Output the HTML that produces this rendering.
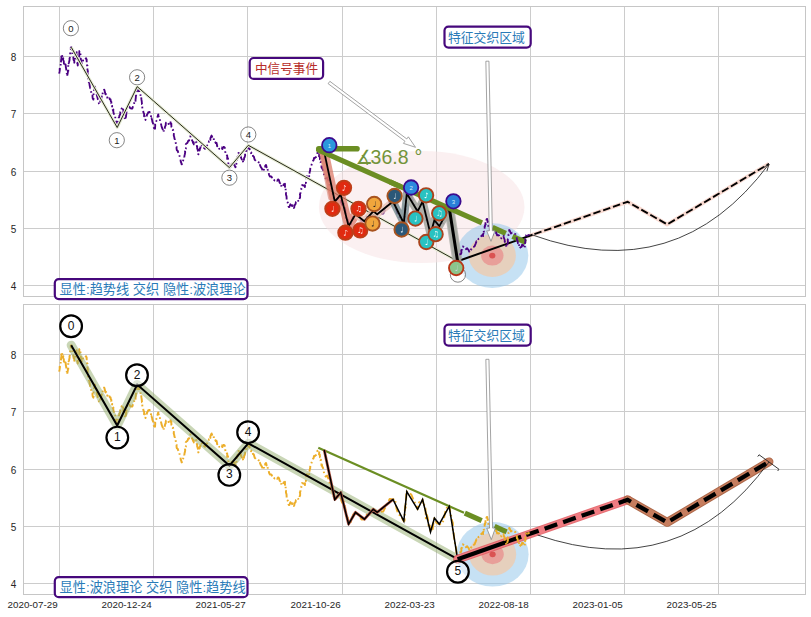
<!DOCTYPE html>
<html><head><meta charset="utf-8"><title>chart</title>
<style>
html,body{margin:0;padding:0;background:#fff;}
body{width:811px;height:617px;overflow:hidden;font-family:"Liberation Sans",sans-serif;}
svg{display:block;}
</style></head><body>
<svg width="811" height="617" viewBox="0 0 811 617">
<title>Wave / trend-line price chart (two panels)</title>
<rect width="811" height="617" fill="#fff"/>
<path d="M23.5 285.5H805.5M23.5 228.5H805.5M23.5 171.5H805.5M23.5 113.5H805.5M23.5 56.5H805.5M59.5 6.5V296.5M153.5 6.5V296.5M247.5 6.5V296.5M342.5 6.5V296.5M436.5 6.5V296.5M530.5 6.5V296.5M624.5 6.5V296.5M718.5 6.5V296.5" stroke="#cccccc" stroke-width="1" fill="none" shape-rendering="crispEdges"/>
<rect x="23.5" y="6.5" width="782" height="290" fill="none" stroke="#c6c6c6" stroke-width="1" shape-rendering="crispEdges"/>
<g font-family="Liberation Sans, sans-serif" font-size="10" fill="#262626" text-anchor="end">
<text x="16.3" y="289.6">4</text>
<text x="16.3" y="232.6">5</text>
<text x="16.3" y="175.6">6</text>
<text x="16.3" y="117.6">7</text>
<text x="16.3" y="60.6">8</text>
</g>
<path d="M23.5 583.5H805.5M23.5 526.5H805.5M23.5 469.5H805.5M23.5 411.5H805.5M23.5 354.5H805.5M59.5 304.5V594.5M153.5 304.5V594.5M247.5 304.5V594.5M342.5 304.5V594.5M436.5 304.5V594.5M530.5 304.5V594.5M624.5 304.5V594.5M718.5 304.5V594.5" stroke="#cccccc" stroke-width="1" fill="none" shape-rendering="crispEdges"/>
<rect x="23.5" y="304.5" width="782" height="290" fill="none" stroke="#c6c6c6" stroke-width="1" shape-rendering="crispEdges"/>
<g font-family="Liberation Sans, sans-serif" font-size="10" fill="#262626" text-anchor="end">
<text x="16.3" y="587.6">4</text>
<text x="16.3" y="530.6">5</text>
<text x="16.3" y="473.6">6</text>
<text x="16.3" y="415.6">7</text>
<text x="16.3" y="358.6">8</text>
</g>
<g font-family="Liberation Sans, sans-serif" font-size="9.8" fill="#262626" text-anchor="end">
<text x="57.7" y="608.3">2020-07-29</text>
<text x="151.7" y="608.3">2020-12-24</text>
<text x="245.7" y="608.3">2021-05-27</text>
<text x="340.7" y="608.3">2021-10-26</text>
<text x="434.7" y="608.3">2022-03-23</text>
<text x="528.7" y="608.3">2022-08-18</text>
<text x="622.7" y="608.3">2023-01-05</text>
<text x="716.7" y="608.3">2023-05-25</text>
</g>
<g id="top">
<ellipse cx="421.7" cy="207" rx="102.8" ry="56" fill="#f7e1e4" fill-opacity="0.5"/>
<ellipse cx="492.3" cy="255.6" rx="36" ry="32.3" fill="#8ec3ea" fill-opacity="0.5"/>
<ellipse cx="492.3" cy="255.6" rx="23.6" ry="21.3" fill="#f0c9ab" fill-opacity="0.75"/>
<ellipse cx="492.3" cy="255.6" rx="11.2" ry="10" fill="#e88a8a" fill-opacity="0.7"/>
<ellipse cx="492.3" cy="255.6" rx="3.1" ry="2.9" fill="#d84a4a" fill-opacity="0.9"/>
<circle cx="70.9" cy="28.2" r="7.6" fill="#fff" fill-opacity="0.6" stroke="#5c5c5c" stroke-width="0.75"/>
<text x="70.9" y="31.65" text-anchor="middle" font-family="Liberation Sans, sans-serif" font-size="9.5" fill="#1a1a1a">0</text>
<circle cx="116.8" cy="140.2" r="7.6" fill="#fff" fill-opacity="0.6" stroke="#5c5c5c" stroke-width="0.75"/>
<text x="116.8" y="143.65" text-anchor="middle" font-family="Liberation Sans, sans-serif" font-size="9.5" fill="#1a1a1a">1</text>
<circle cx="137.1" cy="77.3" r="7.6" fill="#fff" fill-opacity="0.6" stroke="#5c5c5c" stroke-width="0.75"/>
<text x="137.1" y="80.75" text-anchor="middle" font-family="Liberation Sans, sans-serif" font-size="9.5" fill="#1a1a1a">2</text>
<circle cx="229.4" cy="177.7" r="7.6" fill="#fff" fill-opacity="0.6" stroke="#5c5c5c" stroke-width="0.75"/>
<text x="229.4" y="181.15" text-anchor="middle" font-family="Liberation Sans, sans-serif" font-size="9.5" fill="#1a1a1a">3</text>
<circle cx="248.3" cy="134.5" r="7.6" fill="#fff" fill-opacity="0.6" stroke="#5c5c5c" stroke-width="0.75"/>
<text x="248.3" y="137.95" text-anchor="middle" font-family="Liberation Sans, sans-serif" font-size="9.5" fill="#1a1a1a">4</text>
<circle cx="457.9" cy="274.6" r="7.6" fill="#fff" fill-opacity="0.6" stroke="#5c5c5c" stroke-width="0.75"/>
<polyline points="59.4,73.6 59.36,72.47 59.6,71.38 59.93,68.79 59.65,69.48 59.97,66.73 60.63,66.08 60.68,64.85 60.72,62.8 60.88,63.36 60.97,61.8 61.25,58.87 61.48,58.95 61.33,56.31 61.89,56.18 61.96,55.95 61.9,54.3 62.33,56.57 62.38,57.49 62.7,59.05 63.28,58.17 63.02,59.69 63.82,61.47 63.81,62.36 63.95,63.8 64.07,65.53 64.3,66 64.72,65.81 65.15,64.68 65.2,63 65.6,65.47 65.63,64.64 65.92,67.88 66.1,68.13 66.12,68.48 66.36,70.63 66.2,70.58 66.86,74.12 66.6,74.86 67.09,74.46 67.3,76 67.3,75.43 67.86,72.38 67.83,71.14 68.05,70.61 68.31,71 68.2,69.8 68.21,66.25 68.56,64.9 68.45,64.6 68.91,62.73 68.68,63.28 69.04,62.26 69.62,59.57 69.48,58.69 69.78,57.64 69.9,56.47 70.34,54.94 70.16,54.24 70.19,51.95 70.89,51.27 70.76,48.75 70.84,48.94 70.74,47.79 71.1,47.3 71.47,47.42 71.74,49.66 72.04,50.59 72.34,52.77 72.13,52.3 72.84,55.78 72.79,55.74 73.27,56.63 73.35,57.83 73.59,59.77 73.78,60.45 74.35,60.8 74.3,62.7 74.56,62.06 74.6,59.54 75.16,58.35 74.95,57.61 75.57,55.56 75.65,54.94 76.35,54 76.71,52.12 76.5,52.8 76.5,54.42 77,55.17 76.66,55.59 76.99,57.01 77.3,59.87 76.98,59.71 77.53,61.87 77.65,62.37 77.29,63.48 77.87,64.67 77.7,65.6 77.75,64.15 77.96,62.89 78.47,61.02 77.99,61.75 78.76,60.62 78.61,59.29 79.11,56.23 79.18,56.53 79.32,54.5 79.25,52.82 79.4,50.9 79.7,51.3 79.96,52 80.32,52.63 80.59,55.48 80.81,57.23 80.99,57.66 80.57,59.31 80.88,59.44 81.41,61.23 81.44,63.5 81.77,63.24 81.7,63.7 82.07,63.48 82.78,62.16 83.24,59.57 84.25,60.29 85.03,59.51 86.1,58.2 86.57,60.2 86.68,59.44 86.71,62.82 86.48,62.58 86.81,64.46 87.09,65.56 87.46,65.62 87.05,67.18 87.2,68.28 87.89,71.49 87.37,71.86 87.63,72.64 87.75,74.71 88.01,75.25 87.84,76.41 87.89,78.22 88.4,79.03 88.15,79.76 88.66,82.04 89.24,82.69 89.56,84.51 89.61,85.09 89.97,87.13 90.26,88.31 90.62,88.39 91.01,90.72 91.02,91.25 91.59,93.59 92.27,93.54 92.57,95.79 92.45,96.18 92.68,98.26 93.38,99.65 93.3,98.8 93.67,97.98 93.79,96.48 93.51,95.3 93.61,92.95 94.31,91.46 94.01,90.36 94.74,89.33 94.33,89.75 94.58,88.52 95,86.6 95.41,88.66 95.89,89.23 96.06,89.09 96.33,91.5 96.58,91.7 96.9,94.99 96.72,94.67 97.38,97.14 97.45,96.74 97.76,99.04 98.43,99.69 98.47,100.91 98.77,102.18 98.9,103.59 99.4,104.4 100.09,102.98 100.28,101.15 100.6,101.44 100.94,99.65 101.17,98.77 101.81,96.33 101.61,96.63 102.55,94.86 102.57,94.17 102.86,91.89 103.46,91.58 104.13,89.59 104.4,90 104.95,92.31 105.08,92.87 105.58,94.42 106.13,94.13 106.31,94.69 106.94,96.76 107.2,97.7 107.83,96.44 108.8,96 109.32,97.75 109.85,99.37 110.58,99.51 110.83,101.32 111.34,101.85 111.36,103.48 111.89,103.91 112.08,106.52 112.17,105.92 112.29,108.35 112.89,110.17 113.36,109.58 113.24,110.82 113.59,113.14 114.4,114.83 114.32,115.95 114.7,116.05 115.32,116.41 115.22,119.48 115.65,119.5 116.13,121.52 116.01,121.88 116.59,123.48 116.71,124.95 117.51,125.68 117.2,126 117.43,123.81 117.43,123.94 117.51,123.26 118.26,120.05 118.48,119.51 118.61,119.25 118.66,117.85 119.28,116.99 119.38,115.66 120.24,114.27 120.32,111.67 120.66,111.08 121.26,110.73 121.64,108.33 122.18,108.31 122.2,107.7 122.28,109.89 122.92,109.18 123.43,110.44 123.31,113.1 123.81,113.9 124.18,114.86 124.28,115.36 124.45,117.91 125.27,118.68 125.6,119.42 125.5,120 125.49,118.47 126.06,116.37 125.96,115.65 126.29,114.67 126.14,113.55 126.44,113.23 126.46,112.18 126.72,109.58 127.24,108.05 128.28,108.48 128.75,106.25 129.4,106.6 130.15,108.16 131,108.5 132.35,108.59 133,106.24 133.35,105.21 133.92,104.99 134.18,103.04 135.07,101.34 135.33,102.28 135.6,99.77 135.49,99.03 135.71,98.77 135.92,95.84 136.2,95.06 136.19,94.43 135.99,93.31 136.67,91.38 136.78,90.07 136.77,89.01 136.87,87.71 137.2,87.7 137.85,88.69 138.34,91.1 139.11,90.16 139.6,92.5 139.64,92.96 140.32,93.38 140.71,96.74 140.74,97.83 141.18,97.23 141.47,99.63 141.7,101.16 141.75,101.46 141.99,104.17 142.23,104.16 142.36,105.52 142.1,105.65 142.28,107.27 142.57,109.24 143.24,110.56 143.34,112.05 143.55,112.81 144.16,113.86 144.06,116.32 144.75,116.2 144.82,117.82 145.3,118.26 145.5,120 145.6,118.1 146.59,116.77 146.8,115.73 147.07,114.5 147.83,113.42 148.26,112.24 149.05,112.15 149.4,112 149.61,111.94 150.41,114.04 150.91,114.35 151,116.43 151.04,119.07 151.48,118.1 151.96,119.49 152.37,121.16 152.32,121.63 153.05,123.4 153.4,125.09 153.8,125.89 153.63,127.02 154.32,129.14 154.4,130 154.55,127.76 155.04,128.73 155.24,125.09 155.1,124.08 155.46,122.73 155.64,123.05 156.49,120.69 156.86,120.18 157.11,120.08 157.57,116.68 157.48,116.91 158.3,114.42 158.3,114.4 158.47,116.48 158.66,116.54 159.13,118.48 159.86,118.43 160.04,121.03 160.43,121.79 160.8,122.52 160.76,123.4 161.38,125.22 161.39,125.64 162.07,127.93 162.43,128.58 162.64,129.19 163.16,130.06 163.3,132.2 163.61,131.64 164.09,128.78 164.11,129.44 164.72,128.32 165.21,126.05 165.69,125.59 165.78,123.54 166.09,122.46 166.6,122.2 167.83,122.07 168.46,122.94 168.5,124 169.14,123.54 170.18,121.2 170.5,122.2 170.63,123.76 171.3,123.37 171.42,126.95 171.79,127.13 172.29,128.87 172.79,130.09 173.1,129.78 173.21,130.71 174.02,131.99 173.72,135.34 174.05,136.39 174.17,136.56 174.48,138.7 174.96,139.46 175.27,141.27 175.2,141.83 175.49,141.83 175.98,144.27 176.19,144.53 176.21,146.4 176.57,146.67 176.56,148.91 176.86,150.22 177.83,151.04 178.26,152.65 178.42,153.17 179.43,154.29 179.45,154.84 179.59,156.26 180.39,158.88 180.65,160.74 180.76,161.82 181.01,161.75 181.6,164.17 181.91,164.34 181.6,164.4 182.27,163.01 182.9,163.14 182.89,162.02 183.49,158.87 184.54,158.31 184.54,157.94 184.33,156.96 184.62,154.94 184.8,154.47 185.21,152.09 184.88,150.87 185.24,149.08 185.21,149.55 185.75,148.84 186.09,147.35 185.82,144.32 186.12,143.91 186.94,143.05 187.53,142.79 188.2,140.8 189.18,140.54 189.33,138.01 190.24,136.31 190.5,136.6 190.69,137.84 191.43,138.1 191.54,139.36 192.51,141.17 193.19,143.1 193.72,142.36 193.8,144.4 194.46,142.3 195.6,142.34 196.6,142.2 196.46,143.55 196.66,144.21 196.94,146.67 197.23,146.55 197.14,148.22 197.72,150.07 198.09,151.64 197.8,151.19 198.33,154.07 198.3,154.4 198.6,154.01 198.92,151.42 198.95,149.55 199.57,150.53 200.09,148.25 200.28,148.21 200.75,146.2 200.83,144.79 201,144.4 201.53,144.6 202.65,147.61 203.38,147.08 204.17,148.04 205,148.8 205.79,147.58 206.49,145.73 206.62,145.54 207.37,145.32 208.43,144.54 208.98,141.26 209.4,141.39 209.78,139.54 210.38,139.96 210.42,138.19 211.07,136.64 211.6,135.5 212.47,137.75 212.88,136.94 213.66,138.01 213.87,140.73 214.57,140.34 215.78,143.01 216.09,142.63 216.64,143.08 217.17,146.33 217.6,145.58 218.23,146.32 219.32,148.87 220.45,149.45 220.5,149.4 221.73,147.42 222.38,149.1 223.39,146.9 224.4,147.2 224.74,147.82 225.13,148.47 225.27,151.94 225.55,153.01 225.9,154.44 226.57,154.78 226.52,154.51 227.28,156.02 227.18,158.85 227.93,158.13 228.27,160.57 228.15,160.72 228.4,164.14 228.56,163.23 228.7,164.45 229.09,167.64 229.4,167.7 229.6,165.78 230.7,166.65 231.22,163.62 231.46,164.34 232.27,162.7 232.7,161.6 233.11,161.53 233.68,164.47 234.54,165.14 234.89,166.18 235.45,167.28 235.5,167.2 235.99,165.23 236.07,165.83 236.51,162.73 236.84,163.15 236.54,160.49 236.81,158.74 237.61,158.41 237.8,156.45 237.47,157.11 238.28,156.2 238.47,153.81 238.79,151.51 238.8,151.6 239.29,152.62 239.47,154.18 240.05,155.11 240.54,155.8 240.99,157.67 241.91,159.66 242.31,160.56 242.39,162.07 242.86,161.09 243.3,162.7 243.54,162.05 243.66,160.61 243.86,160.19 244.21,157.74 244.53,157.51 245.16,155.43 245.09,154.44 245.14,152.75 246.1,152.45 245.99,151.48 246.66,150.62 247.21,147.6 247.97,148.19 248.3,146.6 248.81,148.64 249.57,148.49 249.84,149.97 250.39,150.79 251.06,153.19 251.49,152.52 251.83,154.19 252.74,154.68 253,156.21 253.82,156.53 254.69,159.8 255.38,160.38 256.44,161.55 257.38,161.44 258.11,161.51 259.16,163.02 259.58,165.29 259.89,164.71 260.71,166.9 260.64,166.64 261.35,167.73 262.22,169.3 262.36,170.94 262.7,171.6 263.24,170.3 263.86,169.74 264.26,167.2 265.21,167.58 265.18,165.85 266,165 266.58,167.41 266.5,166.14 267.19,168.36 267.89,170.55 267.92,170.7 268.54,173.04 268.72,172.97 269.08,174.77 269.83,176.46 271.01,176.49 271.5,176.6 272.51,179.17 273.3,178.74 274.49,180.47 275.4,179.54 276,180.4 277.01,180.9 278.04,179.48 278.3,179.4 278.97,180.14 279.65,182.64 280.3,183.31 280.39,182.74 281.09,184.5 281.46,187.02 282.2,187.2 282.67,186.95 283.85,184.14 284.76,184 285,183.8 284.94,184.26 284.95,186.28 285.33,188.41 285.79,187.66 285.62,189.73 285.6,190.63 285.78,192.98 285.95,192.77 285.98,194.84 286.34,195.6 286.56,196.76 286.65,198.99 286.54,200.57 287.06,201.24 287.56,202.65 287.81,202.42 288.38,205.64 288.5,206.14 288.8,207 289.35,206.97 290.37,204.27 291.42,205.36 291.6,203.8 292.05,206.16 292.71,205.23 293.47,206.73 293.8,208 294.38,207.03 294.35,205.71 295.28,204.41 295.51,204.2 295.91,202.11 296.47,201.78 296.6,200.5 297.51,200.04 298.8,201.6 299.22,200.5 299.14,200.13 299.79,198.02 300.1,197.53 300.16,194.94 299.87,194.68 300.61,192.63 300.71,191.96 300.84,191.07 301.36,189.07 301.3,188.27 301.69,187.47 301.83,185.42 302.2,185 303,185.5 304.29,185.47 305,187 304.89,185.72 305.19,184.54 305.36,182.3 305.82,183.12 306.25,180.87 306.11,178.51 306.23,177.9 306.89,176.17 306.6,177 307.65,177.95 308.15,178.31 308.8,179.4 309.3,177.38 309.2,176.95 309.11,174.99 309.84,175.18 309.83,174.22 309.56,172.48 310.19,170.05 310.15,170.68 310.23,168.91 310.32,167.45 310.8,165.87 311.28,165.59 312,163.51 312.48,162.18 313.11,160.64 313.53,160.36 314.02,157.92 314.5,158.33 315.21,157.57 316.09,157.01 317.05,155.42 317.47,152.71 318.51,153.62 318.8,152.7 319.32,153.19 319.01,156.36 319.64,156.35 319.85,156.74 319.93,159.27 320.22,159.23 320.16,161.61 320.95,161.62 320.6,162.7 321.44,164.68 321.52,167.4 321.94,166.79 322.1,168.3 323.09,170 324.3,176.33 325.8,178.59 327.19,177.51 328.4,180.64 329.39,184.26 331.25,190.85 332.04,191.4 333.89,199.35 334.8,201.5 337.67,198.76 340.7,194.6 341.22,202.48 342.29,204.9 343.03,201.83 344.46,206.84 345.15,209.16 345.86,216.88 346.49,219.54 347.49,218.55 348.6,226.1 350.84,223.83 353.27,216.52 355.5,214.3 358.31,216.17 361.59,221.61 364.4,221.2 367.43,215.55 370.63,214.83 373.3,211.3 377.2,214.3 380.19,213.85 383.21,213.6 386.89,205.87 389.83,200.86 393,201.5 394.93,200.88 396.66,211.17 398.25,215.8 400.28,217.76 401.96,220.32 403.8,223.2 404.53,222.63 404.68,215.56 405.09,208.06 405.69,209.75 405.5,207.66 406.18,199.95 406.39,192.91 406.8,193.6 408.65,194.09 411.33,196.62 413.08,200.81 415.74,206.76 417.6,211.3 419.23,204.17 421.24,205.22 422.6,201.5 423.77,208.05 424.29,206.68 425.54,211.03 425.83,220.16 426.77,216.58 427.85,220.71 428.55,227.6 429.56,225.83 430.5,234 431.53,229.35 432.6,231.27 433.52,223.79 434.4,220.2 436.49,224.77 439.3,226.1 441.5,226.24 443.5,222.47 445.16,214.49 447.33,208.29 449.2,208.4 449.41,207.89 450.05,212.76 450.52,217.49 451.16,217.88 451.89,222.33 452.86,225.15 452.84,234.09 453.56,234.28 453.94,238.83 455.19,246.81 455.35,246.81 455.6,246.83 456.29,252.71 456.77,260.71 457.6,261.2" fill="none" stroke="#4b0082" stroke-width="1.85" stroke-dasharray="7 2.8 1.6 2.8" stroke-linejoin="round"/>
<polyline points="71.2,47.2 117.2,127.5 137.2,86.6 229.4,167.6 248.3,145.3 457.6,261.2" fill="none" stroke="#e6ecd4" stroke-width="3" stroke-linejoin="round"/>
<polyline points="71.2,47.2 117.2,127.5 137.2,86.6 229.4,167.6 248.3,145.3 457.6,261.2" fill="none" stroke="#1c1c10" stroke-width="0.95" stroke-linejoin="round"/>
<polyline points="528,236.41 627.6,201.8 667.2,224.4 769,163.8" fill="none" stroke="#f8d9d0" stroke-width="4" stroke-linejoin="round"/>
<path d="M457.6 261.2 L532.6 234.78" stroke="#000" stroke-width="2.0" fill="none"/>
<polyline points="534.4,234.15 627.6,201.8 667.2,224.4 769,163.8" fill="none" stroke="#000" stroke-width="1.85" stroke-dasharray="7.5 2.9"/>
<path d="M532.8 235.1 Q677.21 286.94 769 164" fill="none" stroke="#222" stroke-width="0.85"/>
<path d="M766.9 171.16 L769 164 L762.73 168.05" fill="none" stroke="#222" stroke-width="0.9"/>
<path d="M321.8 154 L330.6 198" stroke="#d77f70" stroke-opacity="0.6" stroke-width="5" stroke-linecap="round" fill="none"/>
<polyline points="324.2,151.9 334.8,201.5 340.7,194.6 348.6,226.1 355.5,214.3" fill="none" stroke="#dc7a68" stroke-opacity="0.74" stroke-width="9" stroke-linejoin="round" stroke-linecap="round"/>
<polyline points="355.5,214.3 364.4,221.2 373.3,211.3 377.2,214.3 393,201.5" fill="none" stroke="#e9c3b5" stroke-opacity="0.8" stroke-width="7" stroke-linejoin="round" stroke-linecap="round"/>
<polyline points="393,201.5 403.8,223.2 406.8,193.6" fill="none" stroke="#74898f" stroke-opacity="0.8" stroke-width="7.5" stroke-linejoin="round" stroke-linecap="round"/>
<polyline points="406.8,193.6 417.6,211.3 422.6,201.5 430.5,234 434.4,220.2 439.3,226.1 449.2,208.4 457.6,261.2" fill="none" stroke="#a6a8a1" stroke-opacity="0.9" stroke-width="8" stroke-linejoin="round" stroke-linecap="round"/>
<polyline points="324.2,151.9 334.8,201.5 340.7,194.6 348.6,226.1 355.5,214.3 364.4,221.2 373.3,211.3 377.2,214.3 393,201.5 403.8,223.2 406.8,193.6 417.6,211.3 422.6,201.5 430.5,234 434.4,220.2 439.3,226.1 449.2,208.4 457.6,261.2" fill="none" stroke="#000" stroke-width="1.8" stroke-linejoin="miter"/>
<path d="M449.5 210 L457.2 259.5" stroke="#a6a8a1" stroke-opacity="0.75" stroke-width="10" fill="none"/>
<path d="M449.4 209 L457.5 260.8" stroke="#000" stroke-width="3.0" fill="none"/>
<path d="M318.8 148.8H357" stroke="#6b8e23" stroke-width="5.6" stroke-linecap="round" fill="none"/>
<path d="M318.6 150.05 L400 186.3" stroke="#6b8e23" stroke-width="5.1" stroke-linecap="round" fill="none"/>
<path d="M390 181.84 L482 222.81" stroke="#6b8e23" stroke-width="5.1" fill="none"/>
<path d="M492.5 227.49 L505.8 233.41" stroke="#6b8e23" stroke-width="5.3" fill="none"/>
<path d="M512.5 236.39 L525.8 242.32" stroke="#6b8e23" stroke-width="5.3" fill="none"/>
<polyline points="459.4,254.5 460.25,254.21 461.12,253.8 461.43,252.59 461.27,250.26 462.25,249.58 462.7,247.09 462.89,246.34 463.1,246.6 464.14,247.44 464.89,246.87 466.04,249.21 467.07,248.23 467.8,249.14 468.54,249.93 469.2,251.6 469.42,251.51 470.13,248.75 471.33,249.46 471.59,248.74 472.61,247.17 473.29,247.07 474.54,246.35 475.57,243.82 476.01,242.6 476.48,241.31 477.21,241.68 477.64,240.86 478.51,238.89 479.75,238.55 480.31,237.76 481.43,235.82 482.43,234.84 483.09,236.1 482.97,234.84 483.47,233.13 483.49,230.58 483.85,231.76 484.08,230.07 484.81,229.37 484.62,226.66 485,226.58 484.96,225.34 485.69,224.45 485.4,223.5 485.72,220.76 486.37,221.1 486.48,219.95 486.91,217.2 487,217.2 487.07,217.55 487.1,218.65 487.72,222.04 487.55,220.76 488.31,223.21 488.09,223.62 488.4,226.34 488.49,226.48 488.52,228.91 488.92,228.94 489.9,229.12 490.23,232.38 490.5,233.11 490.48,233.34 490.85,235.56 491.3,235.69 491.5,236 492.47,235.89 493.07,233.82 493.39,233.58 494.57,232.26 495.3,232.7 496.19,232.51 497.13,235.41 498.56,235.1 498.97,235.26 499.26,236.14 500.47,238.64 500.8,238.3 501.58,238.23 502.79,237.22 503.69,236.69 503.6,236 503.81,237.69 504.06,238.28 504.72,239.97 504.69,241.8 505.25,242.01 505.17,243.06 505.71,244.53 506.23,246.05 506.73,247.14 506.9,247.2 506.94,246.38 507.35,245.67 507.22,244.52 507.73,242.92 507.95,242.43 507.77,240.13 507.66,239.73 508.36,237.61 508.36,237.05 508.57,234.44 508.78,234.32 508.88,232.72 509.03,232.45 509.21,231.12 509.2,230 509.52,230.13 510.45,232.41 511.02,233.45 512.11,232.67 512.96,233.72 513.87,233.55 515.2,234.02 515.79,234.46 516.34,236.51 516.8,238.2 516.89,240.16 517.1,240.01 517.66,241.16 517.92,243.4 518.47,242.47 518.93,243.78 519.17,245.59 519.48,248.36 519.7,248.3 520.72,247.19 521.51,246.88 522.1,244.78 523,245 523.71,246.18 524.6,248.25 524.7,247.7 524.9,246.12 525.22,244.02 524.8,244.29 525.28,241.99 525.41,242.75 525.36,240.36 525.4,238.81 526.1,237.85 526.27,238.05 526.19,235.16 526.63,234.59 526.4,233.9 527.02,234.42 527.5,235.5 528.93,234.98 528.6,235" fill="none" stroke="#4b0082" stroke-width="1.85" stroke-dasharray="7 2.8 1.6 2.8" stroke-linejoin="round"/>
<circle cx="344" cy="187.8" r="7.2" fill="#e12a10" stroke="#bf3e19" stroke-width="1.9"/>
<path d="M344 185.04H344.33L344.36 185.06V185.21Q344.46 185.42 345.12 185.66Q346.03 185.93 346.03 186.45Q346.03 187.01 345.57 187.37H345.55L345.44 187.25Q345.67 187.06 345.67 186.74Q345.67 186.48 344.8 186.21Q344.45 186.05 344.36 185.95V190.01Q344.36 190.59 343.5 190.76H343.29Q342.37 190.76 342.37 190.12Q342.37 189.62 343.17 189.54H343.26Q343.63 189.54 343.97 189.78V185.06Z" fill="#fff"/>
<circle cx="332.4" cy="208.8" r="7.2" fill="#e12a10" stroke="#bf3e19" stroke-width="1.9"/>
<path d="M333.3 206.04H333.57L333.6 206.07V210.95Q333.6 211.58 332.85 211.75L332.67 211.76H332.53Q331.73 211.76 331.62 211.26L331.6 211.14Q331.6 210.64 332.41 210.55L332.53 210.53Q332.91 210.53 333.25 210.78H333.27V206.07Z" fill="#fff"/>
<circle cx="358.5" cy="208.8" r="7.2" fill="#e12a10" stroke="#bf3e19" stroke-width="1.9"/>
<path d="M358.12 205.66 360.75 206.43 360.76 206.44V211.39Q360.76 211.98 360.03 212.14H359.83Q359.01 212.14 359.01 211.52V211.5Q359.01 211.02 359.69 210.94L359.84 210.93Q360.16 210.93 360.47 211.15V207.21L358.39 206.56V210.6Q358.39 211.12 357.81 211.34L357.56 211.37H357.46Q356.64 211.37 356.64 210.78V210.75Q356.64 210.29 357.29 210.16L357.45 210.14Q357.79 210.14 358.09 210.4V205.69Z" fill="#fff"/>
<circle cx="345.4" cy="232.7" r="7.2" fill="#e12a10" stroke="#bf3e19" stroke-width="1.9"/>
<path d="M345.4 229.94H345.73L345.76 229.96V230.11Q345.86 230.32 346.52 230.56Q347.43 230.83 347.43 231.35Q347.43 231.91 346.97 232.27H346.95L346.84 232.15Q347.07 231.96 347.07 231.64Q347.07 231.38 346.2 231.11Q345.85 230.95 345.76 230.85V234.91Q345.76 235.49 344.9 235.66H344.69Q343.77 235.66 343.77 235.02Q343.77 234.52 344.57 234.44H344.66Q345.03 234.44 345.37 234.68V229.96Z" fill="#fff"/>
<circle cx="360.2" cy="230.4" r="7.2" fill="#e12a10" stroke="#bf3e19" stroke-width="1.9"/>
<path d="M359.82 227.26 362.45 228.03 362.46 228.04V232.99Q362.46 233.58 361.73 233.74H361.53Q360.71 233.74 360.71 233.12V233.1Q360.71 232.62 361.39 232.54L361.54 232.53Q361.86 232.53 362.17 232.75V228.81L360.09 228.16V232.2Q360.09 232.72 359.51 232.94L359.26 232.97H359.16Q358.34 232.97 358.34 232.38V232.35Q358.34 231.89 358.99 231.76L359.15 231.74Q359.49 231.74 359.79 232V227.29Z" fill="#fff"/>
<circle cx="374.2" cy="204" r="7.2" fill="#f0a63c" stroke="#a8531f" stroke-width="1.9"/>
<path d="M375.1 201.24H375.37L375.4 201.27V206.15Q375.4 206.78 374.65 206.95L374.47 206.96H374.33Q373.53 206.96 373.42 206.46L373.4 206.34Q373.4 205.84 374.21 205.75L374.33 205.73Q374.71 205.73 375.05 205.98H375.07V201.27Z" fill="#222"/>
<circle cx="372.5" cy="223.6" r="7.2" fill="#f0a63c" stroke="#a8531f" stroke-width="1.9"/>
<path d="M373.4 220.84H373.67L373.7 220.87V225.75Q373.7 226.38 372.95 226.55L372.77 226.56H372.63Q371.83 226.56 371.72 226.06L371.7 225.94Q371.7 225.44 372.51 225.35L372.63 225.33Q373.01 225.33 373.35 225.58H373.37V220.87Z" fill="#222"/>
<circle cx="394.6" cy="195.9" r="7.2" fill="#2c5878" stroke="#a8531f" stroke-width="1.9"/>
<path d="M395.5 193.14H395.77L395.8 193.17V198.05Q395.8 198.68 395.05 198.85L394.87 198.86H394.73Q393.93 198.86 393.82 198.36L393.8 198.24Q393.8 197.74 394.61 197.65L394.73 197.63Q395.11 197.63 395.45 197.88H395.47V193.17Z" fill="#fff"/>
<circle cx="401.6" cy="229.5" r="7.2" fill="#2c5878" stroke="#a8531f" stroke-width="1.9"/>
<path d="M402.5 226.74H402.77L402.8 226.77V231.65Q402.8 232.28 402.05 232.45L401.87 232.46H401.73Q400.93 232.46 400.82 231.96L400.8 231.84Q400.8 231.34 401.61 231.25L401.73 231.23Q402.11 231.23 402.45 231.48H402.47V226.77Z" fill="#fff"/>
<circle cx="415.4" cy="218.6" r="7.2" fill="#29c2c2" stroke="#aa431d" stroke-width="1.9"/>
<path d="M416.3 215.84H416.57L416.6 215.87V220.75Q416.6 221.38 415.85 221.55L415.67 221.56H415.53Q414.73 221.56 414.62 221.06L414.6 220.94Q414.6 220.44 415.41 220.35L415.53 220.33Q415.91 220.33 416.25 220.58H416.27V215.87Z" fill="#fff"/>
<circle cx="426.1" cy="195.3" r="7.2" fill="#29c2c2" stroke="#aa431d" stroke-width="1.9"/>
<path d="M426.1 192.54H426.43L426.46 192.56V192.71Q426.56 192.92 427.22 193.16Q428.13 193.43 428.13 193.95Q428.13 194.51 427.67 194.87H427.65L427.54 194.75Q427.77 194.56 427.77 194.24Q427.77 193.98 426.9 193.71Q426.55 193.55 426.46 193.45V197.51Q426.46 198.09 425.6 198.26H425.39Q424.47 198.26 424.47 197.62Q424.47 197.12 425.27 197.04H425.36Q425.73 197.04 426.07 197.28V192.56Z" fill="#fff"/>
<circle cx="426.3" cy="242" r="7.2" fill="#29c2c2" stroke="#aa431d" stroke-width="1.9"/>
<path d="M427.2 239.24H427.47L427.5 239.27V244.15Q427.5 244.78 426.75 244.95L426.57 244.96H426.43Q425.63 244.96 425.52 244.46L425.5 244.34Q425.5 243.84 426.31 243.75L426.43 243.73Q426.81 243.73 427.15 243.98H427.17V239.27Z" fill="#fff"/>
<circle cx="435.6" cy="234.2" r="7.2" fill="#29c2c2" stroke="#aa431d" stroke-width="1.9"/>
<path d="M435.22 231.06 437.85 231.83 437.86 231.84V236.79Q437.86 237.38 437.13 237.54H436.93Q436.11 237.54 436.11 236.92V236.9Q436.11 236.42 436.79 236.34L436.94 236.33Q437.26 236.33 437.57 236.55V232.61L435.49 231.96V236Q435.49 236.52 434.91 236.74L434.66 236.77H434.56Q433.74 236.77 433.74 236.18V236.15Q433.74 235.69 434.39 235.56L434.55 235.54Q434.89 235.54 435.19 235.8V231.09Z" fill="#fff"/>
<circle cx="439.2" cy="213.3" r="7.2" fill="#29c2c2" stroke="#aa431d" stroke-width="1.9"/>
<path d="M438.82 210.16 441.45 210.93 441.46 210.94V215.89Q441.46 216.48 440.73 216.64H440.53Q439.71 216.64 439.71 216.02V216Q439.71 215.52 440.39 215.44L440.54 215.43Q440.86 215.43 441.17 215.65V211.71L439.09 211.06V215.1Q439.09 215.62 438.51 215.84L438.26 215.87H438.16Q437.34 215.87 437.34 215.28V215.25Q437.34 214.79 437.99 214.66L438.15 214.64Q438.49 214.64 438.79 214.9V210.19Z" fill="#fff"/>
<circle cx="456.2" cy="268" r="7.2" fill="#8cc58c" stroke="#b93719" stroke-width="1.9"/>
<path d="M457.1 265.24H457.37L457.4 265.27V270.15Q457.4 270.78 456.65 270.95L456.47 270.96H456.33Q455.53 270.96 455.42 270.46L455.4 270.34Q455.4 269.84 456.21 269.75L456.33 269.73Q456.71 269.73 457.05 269.98H457.07V265.27Z" fill="#ccd0da"/>
<circle cx="329.3" cy="145.2" r="7.25" fill="#2a98dc" stroke="#3b0a8e" stroke-width="1.8"/>
<text x="329.4" y="147.5" text-anchor="middle" font-family="Liberation Sans, sans-serif" font-size="6" fill="#d4eefc">1</text>
<circle cx="411.1" cy="187.5" r="7.25" fill="#2b8ade" stroke="#3b0a8e" stroke-width="1.8"/>
<text x="411.1" y="189.8" text-anchor="middle" font-family="Liberation Sans, sans-serif" font-size="6" fill="#d4eefc">2</text>
<circle cx="453.4" cy="201.3" r="7.25" fill="#287fd8" stroke="#3b0a8e" stroke-width="1.8"/>
<text x="453.4" y="203.6" text-anchor="middle" font-family="Liberation Sans, sans-serif" font-size="6" fill="#d4eefc">3</text>
<text x="355.6" y="164.4" font-family="Liberation Sans, DejaVu Sans, sans-serif" font-size="19.5" fill="#73943a">∡</text>
<text x="370.6" y="164.4" font-family="Liberation Sans, DejaVu Sans, sans-serif" font-size="19.5" fill="#73943a">36.8</text>
<text x="414.6" y="164.4" font-family="Liberation Sans, DejaVu Sans, sans-serif" font-size="19.5" fill="#73943a">°</text>
</g>
<polygon points="328.13,83.66 405.03,141.27 403.44,143.39 415.5,147.3 408.35,136.82 406.77,138.94 329.87,81.34" fill="#fff" stroke="#7d7d7d" stroke-width="0.7" stroke-linejoin="miter"/>
<polygon points="485.85,61.23 489.24,230.83 486.69,230.88 491,241.3 494.89,230.72 492.34,230.77 488.95,61.17" fill="#fff" stroke="#7d7d7d" stroke-width="0.7" stroke-linejoin="miter"/>
<rect x="249.7" y="58" width="73.4" height="20.9" rx="4" ry="4" fill="#fff" stroke="#46087c" stroke-width="2.2"/>
<text x="255" y="73.3" font-family="Liberation Sans, Noto Sans CJK SC, sans-serif" font-size="12.6" fill="#b62c28">中信号事件</text>
<rect x="444.5" y="26.6" width="86.2" height="21" rx="4" ry="4" fill="#fff" stroke="#46087c" stroke-width="2.2"/>
<text x="448" y="41.8" font-family="Liberation Sans, Noto Sans CJK SC, sans-serif" font-size="12.8" fill="#2a7bb8">特征交织区域</text>
<rect x="54.8" y="279.1" width="192.7" height="20" rx="4" ry="4" fill="#fff" stroke="#46087c" stroke-width="2.2"/>
<text x="59.6" y="294.3" font-family="Liberation Sans, Noto Sans CJK SC, sans-serif" font-size="13.2" fill="#2a7bb8">显性:趋势线 交织 隐性:波浪理论</text>
<g id="bot">
<ellipse cx="492.6" cy="554.3" rx="36" ry="32.3" fill="#8ec3ea" fill-opacity="0.5"/>
<ellipse cx="492.6" cy="554.3" rx="23.6" ry="21.3" fill="#f0c9ab" fill-opacity="0.75"/>
<ellipse cx="492.6" cy="554.3" rx="11.2" ry="10" fill="#e88a8a" fill-opacity="0.7"/>
<ellipse cx="492.6" cy="554.3" rx="3.1" ry="2.9" fill="#d84a4a" fill-opacity="0.9"/>
<polyline points="59.4,371.6 59.36,370.47 59.6,369.38 59.93,366.79 59.65,367.48 59.97,364.73 60.63,364.08 60.68,362.85 60.72,360.8 60.88,361.36 60.97,359.8 61.25,356.87 61.48,356.95 61.33,354.31 61.89,354.18 61.96,353.95 61.9,352.3 62.33,354.57 62.38,355.49 62.7,357.05 63.28,356.17 63.02,357.69 63.82,359.47 63.81,360.36 63.95,361.8 64.07,363.53 64.3,364 64.72,363.81 65.15,362.68 65.2,361 65.6,363.47 65.63,362.64 65.92,365.88 66.1,366.13 66.12,366.48 66.36,368.63 66.2,368.58 66.86,372.12 66.6,372.86 67.09,372.46 67.3,374 67.3,373.43 67.86,370.38 67.83,369.14 68.05,368.61 68.31,369 68.2,367.8 68.21,364.25 68.56,362.9 68.45,362.6 68.91,360.73 68.68,361.28 69.04,360.26 69.62,357.57 69.48,356.69 69.78,355.64 69.9,354.47 70.34,352.94 70.16,352.24 70.19,349.95 70.89,349.27 70.76,346.75 70.84,346.94 70.74,345.79 71.1,345.3 71.47,345.42 71.74,347.66 72.04,348.59 72.34,350.77 72.13,350.3 72.84,353.78 72.79,353.74 73.27,354.63 73.35,355.83 73.59,357.77 73.78,358.45 74.35,358.8 74.3,360.7 74.56,360.06 74.6,357.54 75.16,356.35 74.95,355.61 75.57,353.56 75.65,352.94 76.35,352 76.71,350.12 76.5,350.8 76.5,352.42 77,353.17 76.66,353.59 76.99,355.01 77.3,357.87 76.98,357.71 77.53,359.87 77.65,360.37 77.29,361.48 77.87,362.67 77.7,363.6 77.75,362.15 77.96,360.89 78.47,359.02 77.99,359.75 78.76,358.62 78.61,357.29 79.11,354.23 79.18,354.53 79.32,352.5 79.25,350.82 79.4,348.9 79.7,349.3 79.96,350 80.32,350.63 80.59,353.48 80.81,355.23 80.99,355.66 80.57,357.31 80.88,357.44 81.41,359.23 81.44,361.5 81.77,361.24 81.7,361.7 82.07,361.48 82.78,360.16 83.24,357.57 84.25,358.29 85.03,357.51 86.1,356.2 86.57,358.2 86.68,357.44 86.71,360.82 86.48,360.58 86.81,362.46 87.09,363.56 87.46,363.62 87.05,365.18 87.2,366.28 87.89,369.49 87.37,369.86 87.63,370.64 87.75,372.71 88.01,373.25 87.84,374.41 87.89,376.22 88.4,377.03 88.15,377.76 88.66,380.04 89.24,380.69 89.56,382.51 89.61,383.09 89.97,385.13 90.26,386.31 90.62,386.39 91.01,388.72 91.02,389.25 91.59,391.59 92.27,391.54 92.57,393.79 92.45,394.18 92.68,396.26 93.38,397.65 93.3,396.8 93.67,395.98 93.79,394.48 93.51,393.3 93.61,390.95 94.31,389.46 94.01,388.36 94.74,387.33 94.33,387.75 94.58,386.52 95,384.6 95.41,386.66 95.89,387.23 96.06,387.09 96.33,389.5 96.58,389.7 96.9,392.99 96.72,392.67 97.38,395.14 97.45,394.74 97.76,397.04 98.43,397.69 98.47,398.91 98.77,400.18 98.9,401.59 99.4,402.4 100.09,400.98 100.28,399.15 100.6,399.44 100.94,397.65 101.17,396.77 101.81,394.33 101.61,394.63 102.55,392.86 102.57,392.17 102.86,389.89 103.46,389.58 104.13,387.59 104.4,388 104.95,390.31 105.08,390.87 105.58,392.42 106.13,392.13 106.31,392.69 106.94,394.76 107.2,395.7 107.83,394.44 108.8,394 109.32,395.75 109.85,397.37 110.58,397.51 110.83,399.32 111.34,399.85 111.36,401.48 111.89,401.91 112.08,404.52 112.17,403.92 112.29,406.35 112.89,408.17 113.36,407.58 113.24,408.82 113.59,411.14 114.4,412.83 114.32,413.95 114.7,414.05 115.32,414.41 115.22,417.48 115.65,417.5 116.13,419.52 116.01,419.88 116.59,421.48 116.71,422.95 117.51,423.68 117.2,424 117.43,421.81 117.43,421.94 117.51,421.26 118.26,418.05 118.48,417.51 118.61,417.25 118.66,415.85 119.28,414.99 119.38,413.66 120.24,412.27 120.32,409.67 120.66,409.08 121.26,408.73 121.64,406.33 122.18,406.31 122.2,405.7 122.28,407.89 122.92,407.18 123.43,408.44 123.31,411.1 123.81,411.9 124.18,412.86 124.28,413.36 124.45,415.91 125.27,416.68 125.6,417.42 125.5,418 125.49,416.47 126.06,414.37 125.96,413.65 126.29,412.67 126.14,411.55 126.44,411.23 126.46,410.18 126.72,407.58 127.24,406.05 128.28,406.48 128.75,404.25 129.4,404.6 130.15,406.16 131,406.5 132.35,406.59 133,404.24 133.35,403.21 133.92,402.99 134.18,401.04 135.07,399.34 135.33,400.28 135.6,397.77 135.49,397.03 135.71,396.77 135.92,393.84 136.2,393.06 136.19,392.43 135.99,391.31 136.67,389.38 136.78,388.07 136.77,387.01 136.87,385.71 137.2,385.7 137.85,386.69 138.34,389.1 139.11,388.16 139.6,390.5 139.64,390.96 140.32,391.38 140.71,394.74 140.74,395.83 141.18,395.23 141.47,397.63 141.7,399.16 141.75,399.46 141.99,402.17 142.23,402.16 142.36,403.52 142.1,403.65 142.28,405.27 142.57,407.24 143.24,408.56 143.34,410.05 143.55,410.81 144.16,411.86 144.06,414.32 144.75,414.2 144.82,415.82 145.3,416.26 145.5,418 145.6,416.1 146.59,414.77 146.8,413.73 147.07,412.5 147.83,411.42 148.26,410.24 149.05,410.15 149.4,410 149.61,409.94 150.41,412.04 150.91,412.35 151,414.43 151.04,417.07 151.48,416.1 151.96,417.49 152.37,419.16 152.32,419.63 153.05,421.4 153.4,423.09 153.8,423.89 153.63,425.02 154.32,427.14 154.4,428 154.55,425.76 155.04,426.73 155.24,423.09 155.1,422.08 155.46,420.73 155.64,421.05 156.49,418.69 156.86,418.18 157.11,418.08 157.57,414.68 157.48,414.91 158.3,412.42 158.3,412.4 158.47,414.48 158.66,414.54 159.13,416.48 159.86,416.43 160.04,419.03 160.43,419.79 160.8,420.52 160.76,421.4 161.38,423.22 161.39,423.64 162.07,425.93 162.43,426.58 162.64,427.19 163.16,428.06 163.3,430.2 163.61,429.64 164.09,426.78 164.11,427.44 164.72,426.32 165.21,424.05 165.69,423.59 165.78,421.54 166.09,420.46 166.6,420.2 167.83,420.07 168.46,420.94 168.5,422 169.14,421.54 170.18,419.2 170.5,420.2 170.63,421.76 171.3,421.37 171.42,424.95 171.79,425.13 172.29,426.87 172.79,428.09 173.1,427.78 173.21,428.71 174.02,429.99 173.72,433.34 174.05,434.39 174.17,434.56 174.48,436.7 174.96,437.46 175.27,439.27 175.2,439.83 175.49,439.83 175.98,442.27 176.19,442.53 176.21,444.4 176.57,444.67 176.56,446.91 176.86,448.22 177.83,449.04 178.26,450.65 178.42,451.17 179.43,452.29 179.45,452.84 179.59,454.26 180.39,456.88 180.65,458.74 180.76,459.82 181.01,459.75 181.6,462.17 181.91,462.34 181.6,462.4 182.27,461.01 182.9,461.14 182.89,460.02 183.49,456.87 184.54,456.31 184.54,455.94 184.33,454.96 184.62,452.94 184.8,452.47 185.21,450.09 184.88,448.87 185.24,447.08 185.21,447.55 185.75,446.84 186.09,445.35 185.82,442.32 186.12,441.91 186.94,441.05 187.53,440.79 188.2,438.8 189.18,438.54 189.33,436.01 190.24,434.31 190.5,434.6 190.69,435.84 191.43,436.1 191.54,437.36 192.51,439.17 193.19,441.1 193.72,440.36 193.8,442.4 194.46,440.3 195.6,440.34 196.6,440.2 196.46,441.55 196.66,442.21 196.94,444.67 197.23,444.55 197.14,446.22 197.72,448.07 198.09,449.64 197.8,449.19 198.33,452.07 198.3,452.4 198.6,452.01 198.92,449.42 198.95,447.55 199.57,448.53 200.09,446.25 200.28,446.21 200.75,444.2 200.83,442.79 201,442.4 201.53,442.6 202.65,445.61 203.38,445.08 204.17,446.04 205,446.8 205.79,445.58 206.49,443.73 206.62,443.54 207.37,443.32 208.43,442.54 208.98,439.26 209.4,439.39 209.78,437.54 210.38,437.96 210.42,436.19 211.07,434.64 211.6,433.5 212.47,435.75 212.88,434.94 213.66,436.01 213.87,438.73 214.57,438.34 215.78,441.01 216.09,440.63 216.64,441.08 217.17,444.33 217.6,443.58 218.23,444.32 219.32,446.87 220.45,447.45 220.5,447.4 221.73,445.42 222.38,447.1 223.39,444.9 224.4,445.2 224.74,445.82 225.13,446.47 225.27,449.94 225.55,451.01 225.9,452.44 226.57,452.78 226.52,452.51 227.28,454.02 227.18,456.85 227.93,456.13 228.27,458.57 228.15,458.72 228.4,462.14 228.56,461.23 228.7,462.45 229.09,465.64 229.4,465.7 229.6,463.78 230.7,464.65 231.22,461.62 231.46,462.34 232.27,460.7 232.7,459.6 233.11,459.53 233.68,462.47 234.54,463.14 234.89,464.18 235.45,465.28 235.5,465.2 235.99,463.23 236.07,463.83 236.51,460.73 236.84,461.15 236.54,458.49 236.81,456.74 237.61,456.41 237.8,454.45 237.47,455.11 238.28,454.2 238.47,451.81 238.79,449.51 238.8,449.6 239.29,450.62 239.47,452.18 240.05,453.11 240.54,453.8 240.99,455.67 241.91,457.66 242.31,458.56 242.39,460.07 242.86,459.09 243.3,460.7 243.54,460.05 243.66,458.61 243.86,458.19 244.21,455.74 244.53,455.51 245.16,453.43 245.09,452.44 245.14,450.75 246.1,450.45 245.99,449.48 246.66,448.62 247.21,445.6 247.97,446.19 248.3,444.6 248.81,446.64 249.57,446.49 249.84,447.97 250.39,448.79 251.06,451.19 251.49,450.52 251.83,452.19 252.74,452.68 253,454.21 253.82,454.53 254.69,457.8 255.38,458.38 256.44,459.55 257.38,459.44 258.11,459.51 259.16,461.02 259.58,463.29 259.89,462.71 260.71,464.9 260.64,464.64 261.35,465.73 262.22,467.3 262.36,468.94 262.7,469.6 263.24,468.3 263.86,467.74 264.26,465.2 265.21,465.58 265.18,463.85 266,463 266.58,465.41 266.5,464.14 267.19,466.36 267.89,468.55 267.92,468.7 268.54,471.04 268.72,470.97 269.08,472.77 269.83,474.46 271.01,474.49 271.5,474.6 272.51,477.17 273.3,476.74 274.49,478.47 275.4,477.54 276,478.4 277.01,478.9 278.04,477.48 278.3,477.4 278.97,478.14 279.65,480.64 280.3,481.31 280.39,480.74 281.09,482.5 281.46,485.02 282.2,485.2 282.67,484.95 283.85,482.14 284.76,482 285,481.8 284.94,482.26 284.95,484.28 285.33,486.41 285.79,485.66 285.62,487.73 285.6,488.63 285.78,490.98 285.95,490.77 285.98,492.84 286.34,493.6 286.56,494.76 286.65,496.99 286.54,498.57 287.06,499.24 287.56,500.65 287.81,500.42 288.38,503.64 288.5,504.14 288.8,505 289.35,504.97 290.37,502.27 291.42,503.36 291.6,501.8 292.05,504.16 292.71,503.23 293.47,504.73 293.8,506 294.38,505.03 294.35,503.71 295.28,502.41 295.51,502.2 295.91,500.11 296.47,499.78 296.6,498.5 297.51,498.04 298.8,499.6 299.22,498.5 299.14,498.13 299.79,496.02 300.1,495.53 300.16,492.94 299.87,492.68 300.61,490.63 300.71,489.96 300.84,489.07 301.36,487.07 301.3,486.27 301.69,485.47 301.83,483.42 302.2,483 303,483.5 304.29,483.47 305,485 304.89,483.72 305.19,482.54 305.36,480.3 305.82,481.12 306.25,478.87 306.11,476.51 306.23,475.9 306.89,474.17 306.6,475 307.65,475.95 308.15,476.31 308.8,477.4 309.3,475.38 309.2,474.95 309.11,472.99 309.84,473.18 309.83,472.22 309.56,470.48 310.19,468.05 310.15,468.68 310.23,466.91 310.32,465.45 310.8,463.87 311.28,463.59 312,461.51 312.48,460.18 313.11,458.64 313.53,458.36 314.02,455.92 314.5,456.33 315.21,455.57 316.09,455.01 317.05,453.42 317.47,450.71 318.51,451.62 318.8,450.7 319.32,451.19 319.01,454.36 319.64,454.35 319.85,454.74 319.93,457.27 320.22,457.23 320.16,459.61 320.95,459.62 320.6,460.7 321.44,462.68 321.52,465.4 321.94,464.79 322.1,466.3 323.09,468 324.3,474.33 325.8,476.59 327.19,475.51 328.4,478.64 329.39,482.26 331.25,488.85 332.04,489.4 333.89,497.35 334.8,499.5 337.67,496.76 340.7,492.6 341.22,500.48 342.29,502.9 343.03,499.83 344.46,504.84 345.15,507.16 345.86,514.88 346.49,517.54 347.49,516.55 348.6,524.1 350.84,521.83 353.27,514.52 355.5,512.3 358.31,514.17 361.59,519.61 364.4,519.2 367.43,513.55 370.63,512.83 373.3,509.3 377.2,512.3 380.19,511.85 383.21,511.6 386.89,503.87 389.83,498.86 393,499.5 394.93,498.88 396.66,509.17 398.25,513.8 400.28,515.76 401.96,518.32 403.8,521.2 404.53,520.63 404.68,513.56 405.09,506.06 405.69,507.75 405.5,505.66 406.18,497.95 406.39,490.91 406.8,491.6 408.65,492.09 411.33,494.62 413.08,498.81 415.74,504.76 417.6,509.3 419.23,502.17 421.24,503.22 422.6,499.5 423.77,506.05 424.29,504.68 425.54,509.03 425.83,518.16 426.77,514.58 427.85,518.71 428.55,525.6 429.56,523.83 430.5,532 431.53,527.35 432.6,529.27 433.52,521.79 434.4,518.2 436.49,522.77 439.3,524.1 441.5,524.24 443.5,520.47 445.16,512.49 447.33,506.29 449.2,506.4 449.41,505.89 450.05,510.76 450.52,515.49 451.16,515.88 451.89,520.33 452.86,523.15 452.84,532.09 453.56,532.28 453.94,536.83 455.19,544.81 455.35,544.81 455.6,544.83 456.29,550.71 456.77,558.71 457.6,559.2" fill="none" stroke="#ecae2a" stroke-width="1.95" stroke-dasharray="7 2.8 1.6 2.8" stroke-linejoin="round"/>
<polyline points="71.2,345.2 117.2,425.5 137.2,384.6 229.4,465.6 248.3,443.3 457.6,559.2" fill="none" stroke="#94ad6e" stroke-opacity="0.5" stroke-width="9" stroke-linejoin="round" stroke-linecap="round"/>
<polyline points="71.2,345.2 117.2,425.5 137.2,384.6 229.4,465.6 248.3,443.3 457.6,559.2" fill="none" stroke="#000" stroke-width="2.0" stroke-linejoin="miter"/>
<path d="M318.3 447.7 L464 512.83" stroke="#6b8e23" stroke-width="2.2" fill="none"/>
<path d="M464.8 513.19 L481.7 520.74" stroke="#6b8e23" stroke-width="5.2" fill="none"/>
<path d="M494.5 526.46 L506.6 531.87" stroke="#6b8e23" stroke-width="5.2" fill="none"/>
<polyline points="324.2,449.9 334.8,499.5 340.7,492.6 348.6,524.1 355.5,512.3 364.4,519.2 373.3,509.3 377.2,512.3 393,499.5" fill="none" stroke="#b85a48" stroke-width="2.8" stroke-linejoin="round"/>
<polyline points="324.2,449.9 334.8,499.5 340.7,492.6 348.6,524.1 355.5,512.3 364.4,519.2 373.3,509.3 377.2,512.3 393,499.5 403.8,521.2 406.8,491.6 417.6,509.3 422.6,499.5 430.5,532 434.4,518.2 439.3,524.1 449.2,506.4 457.6,559.2" fill="none" stroke="#000" stroke-width="1.5" stroke-linejoin="miter"/>
<polyline points="457.6,559.2 627.6,499.8" fill="none" stroke="#e0565c" stroke-opacity="0.85" stroke-width="8.8" stroke-linecap="round"/>
<polyline points="457.6,559.2 627.6,499.8" fill="none" stroke="#f07c82" stroke-width="7.0" stroke-linecap="round"/>
<polyline points="627.6,499.8 667.2,522.4 769,461.8" fill="none" stroke="#a85f3e" stroke-opacity="0.95" stroke-width="8.8" stroke-linecap="round" stroke-linejoin="round"/>
<polyline points="627.6,499.8 667.2,522.4 769,461.8" fill="none" stroke="#c67d5e" stroke-width="7.0" stroke-linecap="round" stroke-linejoin="round"/>
<path d="M457.6 559.2 L521.2 536.69" stroke="#000" stroke-width="4.2" fill="none"/>
<polyline points="521.5,536.69 627.6,499.8 667.2,522.4 769,461.8" fill="none" stroke="#000" stroke-width="4.2" stroke-dasharray="13.3 6.3" stroke-dashoffset="14.7"/>
<polyline points="459.4,552.5 460.25,552.21 461.12,551.8 461.43,550.59 461.27,548.26 462.25,547.58 462.7,545.09 462.89,544.34 463.1,544.6 464.14,545.44 464.89,544.87 466.04,547.21 467.07,546.23 467.8,547.14 468.54,547.93 469.2,549.6 469.42,549.51 470.13,546.75 471.33,547.46 471.59,546.74 472.61,545.17 473.29,545.07 474.54,544.35 475.57,541.82 476.01,540.6 476.48,539.31 477.21,539.68 477.64,538.86 478.51,536.89 479.75,536.55 480.31,535.76 481.43,533.82 482.43,532.84 483.09,534.1 482.97,532.84 483.47,531.13 483.49,528.58 483.85,529.76 484.08,528.07 484.81,527.37 484.62,524.66 485,524.58 484.96,523.34 485.69,522.45 485.4,521.5 485.72,518.76 486.37,519.1 486.48,517.95 486.91,515.2 487,515.2 487.07,515.55 487.1,516.65 487.72,520.04 487.55,518.76 488.31,521.21 488.09,521.62 488.4,524.34 488.49,524.48 488.52,526.91 488.92,526.94 489.9,527.12 490.23,530.38 490.5,531.11 490.48,531.34 490.85,533.56 491.3,533.69 491.5,534 492.47,533.89 493.07,531.82 493.39,531.58 494.57,530.26 495.3,530.7 496.19,530.51 497.13,533.41 498.56,533.1 498.97,533.26 499.26,534.14 500.47,536.64 500.8,536.3 501.58,536.23 502.79,535.22 503.69,534.69 503.6,534 503.81,535.69 504.06,536.28 504.72,537.97 504.69,539.8 505.25,540.01 505.17,541.06 505.71,542.53 506.23,544.05 506.73,545.14 506.9,545.2 506.94,544.38 507.35,543.67 507.22,542.52 507.73,540.92 507.95,540.43 507.77,538.13 507.66,537.73 508.36,535.61 508.36,535.05 508.57,532.44 508.78,532.32 508.88,530.72 509.03,530.45 509.21,529.12 509.2,528 509.52,528.13 510.45,530.41 511.02,531.45 512.11,530.67 512.96,531.72 513.87,531.55 515.2,532.02 515.79,532.46 516.34,534.51 516.8,536.2 516.89,538.16 517.1,538.01 517.66,539.16 517.92,541.4 518.47,540.47 518.93,541.78 519.17,543.59 519.48,546.36 519.7,546.3 520.72,545.19 521.51,544.88 522.1,542.78 523,543 523.71,544.18 524.6,546.25 524.7,545.7 524.9,544.12 525.22,542.02 524.8,542.29 525.28,539.99 525.41,540.75 525.36,538.36 525.4,536.81 526.1,535.85 526.27,536.05 526.19,533.16 526.63,532.59 526.4,531.9 527.02,532.42 527.5,533.5 528.93,532.98 528.6,533" fill="none" stroke="#ecae2a" stroke-width="1.95" stroke-dasharray="7 2.8 1.6 2.8" stroke-linejoin="round"/>
<path d="M537.6 535 Q680.31 584.12 769 462" fill="none" stroke="#222" stroke-width="0.85"/>
<path d="M777.66 471.01 L778.95 469.23 L759.05 454.77 L757.75 456.55" fill="none" stroke="#222" stroke-width="0.9"/>
<circle cx="71.1" cy="326.3" r="10.85" fill="#fff" fill-opacity="0.45" stroke="#000" stroke-width="2.2"/>
<text x="71.1" y="329.8" text-anchor="middle" font-family="Liberation Sans, sans-serif" font-size="12" fill="#111">0</text>
<circle cx="117.3" cy="437.6" r="10.85" fill="#fff" fill-opacity="0.45" stroke="#000" stroke-width="2.2"/>
<text x="117.3" y="441.1" text-anchor="middle" font-family="Liberation Sans, sans-serif" font-size="12" fill="#111">1</text>
<circle cx="137" cy="375.2" r="10.85" fill="#fff" fill-opacity="0.45" stroke="#000" stroke-width="2.2"/>
<text x="137" y="378.7" text-anchor="middle" font-family="Liberation Sans, sans-serif" font-size="12" fill="#111">2</text>
<circle cx="229.3" cy="474.9" r="10.85" fill="#fff" fill-opacity="0.45" stroke="#000" stroke-width="2.2"/>
<text x="229.3" y="478.4" text-anchor="middle" font-family="Liberation Sans, sans-serif" font-size="12" fill="#111">3</text>
<circle cx="248.1" cy="432.2" r="10.85" fill="#fff" fill-opacity="0.45" stroke="#000" stroke-width="2.2"/>
<text x="248.1" y="435.7" text-anchor="middle" font-family="Liberation Sans, sans-serif" font-size="12" fill="#111">4</text>
<circle cx="457.9" cy="571.7" r="10.85" fill="#fff" fill-opacity="0.45" stroke="#000" stroke-width="2.2"/>
<text x="457.9" y="575.2" text-anchor="middle" font-family="Liberation Sans, sans-serif" font-size="12" fill="#111">5</text>
</g>
<polygon points="485.85,359.33 489.5,528.14 486.75,528.2 491.3,539.6 495.35,528.01 492.6,528.07 488.95,359.27" fill="#fff" stroke="#7d7d7d" stroke-width="0.7" stroke-linejoin="miter"/>
<rect x="444.5" y="324.6" width="86.2" height="21" rx="4" ry="4" fill="#fff" stroke="#46087c" stroke-width="2.2"/>
<text x="448" y="339.9" font-family="Liberation Sans, Noto Sans CJK SC, sans-serif" font-size="12.8" fill="#2a7bb8">特征交织区域</text>
<rect x="54.8" y="577.2" width="192.7" height="20" rx="4" ry="4" fill="#fff" stroke="#46087c" stroke-width="2.2"/>
<text x="59.6" y="592.4" font-family="Liberation Sans, Noto Sans CJK SC, sans-serif" font-size="13.2" fill="#2a7bb8">显性:波浪理论 交织 隐性:趋势线</text>
</svg>
</body></html>
